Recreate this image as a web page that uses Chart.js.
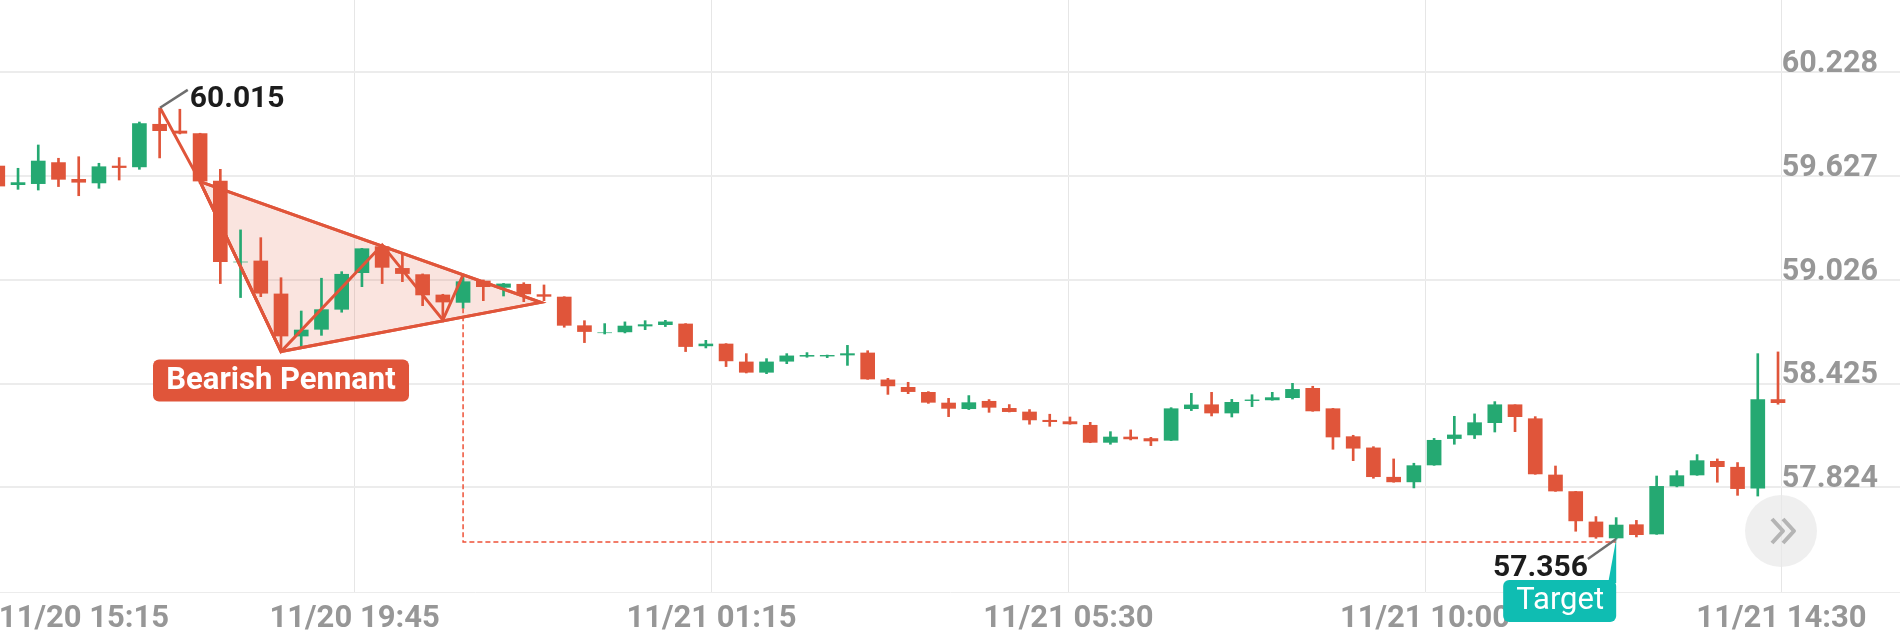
<!DOCTYPE html>
<html>
<head>
<meta charset="utf-8">
<title>Bearish Pennant</title>
<style>
  html, body { margin: 0; padding: 0; background: #fff; overflow: hidden; }
  canvas { display: block; }
</style>
<script src="https://cdn.jsdelivr.net/npm/chart.js@4/dist/chart.umd.min.js"></script>
</head>
<body>
<canvas id="grafico" width="1900" height="640"></canvas>
<script>
const opens = [59.686,59.578,59.584,59.706,59.609,59.588,59.686,59.681,59.928,59.889,
  59.874,59.599,59.13,59.136,58.945,58.701,58.740,58.856,59.068,59.219,
  59.093,59.057,58.939,58.896,59.020,58.983,59.001,58.941,58.927,58.761,
  58.72,58.725,58.759,58.767,58.771,58.644,58.655,58.551,58.491,58.555,
  58.584,58.585,58.591,58.603,58.447,58.404,58.375,58.313,58.280,58.323,
  58.282,58.261,58.213,58.205,58.184,58.085,58.116,58.107,58.097,58.280,
  58.303,58.255,58.327,58.331,58.344,58.398,58.280,58.118,58.053,57.883,
  57.856,57.954,58.107,58.128,58.199,58.303,58.222,57.896,57.800,57.624,
  57.531,57.608,57.554,57.832,57.896,57.975,57.941,57.819,58.333];
const closes = [59.570,59.590,59.715,59.609,59.592,59.682,59.677,59.932,59.891,59.876,
  59.599,59.132,59.13,58.949,58.701,58.736,58.854,59.059,59.207,59.099,
  59.063,58.939,58.898,59.016,58.987,59.003,58.945,58.931,58.763,58.727,
  58.72,58.759,58.767,58.783,58.640,58.655,58.557,58.491,58.551,58.586,
  58.589,58.589,58.599,58.452,58.412,58.379,58.317,58.282,58.315,58.288,
  58.263,58.215,58.205,58.192,58.085,58.116,58.105,58.093,58.280,58.302,
  58.255,58.317,58.331,58.344,58.392,58.267,58.116,58.051,57.886,57.856,
  57.950,58.097,58.128,58.199,58.303,58.234,57.902,57.803,57.630,57.537,
  57.606,57.550,57.830,57.892,57.979,57.944,57.817,58.333,58.315];
const highs = [59.690,59.673,59.808,59.731,59.740,59.702,59.735,59.941,60.022,60.015,
  59.876,59.667,59.316,59.271,59.039,58.846,59.036,59.074,59.209,59.232,
  59.180,59.061,58.943,59.045,59.026,59.006,59.010,58.997,58.929,58.790,
  58.773,58.783,58.790,58.792,58.773,58.676,58.657,58.599,58.570,58.599,
  58.605,58.591,58.647,58.616,58.456,58.433,58.379,58.340,58.356,58.333,
  58.304,58.275,58.248,58.232,58.201,58.147,58.157,58.114,58.286,58.369,
  58.375,58.334,58.361,58.375,58.427,58.410,58.282,58.126,58.060,57.989,
  57.964,58.108,58.236,58.250,58.321,58.303,58.234,57.948,57.801,57.655,
  57.649,57.633,57.890,57.921,58.014,57.989,57.968,58.599,58.609];
const lows = [59.570,59.551,59.547,59.567,59.514,59.557,59.605,59.667,59.733,59.872,
  59.586,59.005,58.924,58.929,58.620,58.640,58.705,58.839,58.987,59.005,
  59.016,58.877,58.784,58.862,58.906,58.933,58.900,58.906,58.752,58.663,
  58.713,58.719,58.738,58.756,58.611,58.632,58.524,58.487,58.483,58.541,
  58.578,58.576,58.531,58.450,58.363,58.367,58.311,58.234,58.275,58.259,
  58.261,58.190,58.178,58.190,58.083,58.074,58.099,58.066,58.095,58.269,
  58.238,58.232,58.292,58.329,58.336,58.265,58.045,57.979,57.877,57.854,
  57.821,57.952,58.074,58.107,58.145,58.147,57.900,57.801,57.570,57.529,
  57.525,57.537,57.552,57.827,57.894,57.854,57.778,57.774,58.306];

const yTicks = [60.228, 59.627, 59.026, 58.425, 57.824];
const xTickPos = [4.26, 17.64, 35.28, 52.92, 70.55, 88.17];
const xTickLabels = ["11/20 15:15", "11/20 19:45", "11/21 01:15", "11/21 05:30", "11/21 10:00", "11/21 14:30"];

// pennant pattern, as candle index / price
const zigzagX = [8.02, 10, 14, 19, 22, 23];
const zigzagY = [60.024, 59.596, 58.611, 59.229, 58.794, 59.055];
const triangleX = [10, 26.84, 14, 10];
const triangleY = [59.596, 58.896, 58.611, 59.596];
const targetX = [23, 23, 80];
const targetY = [58.862, 57.508, 57.508];
const leaderTopX = [8.02, 9.39];
const leaderTopY = [60.024, 60.127];
const leaderLowX = [80, 78.6];
const leaderLowY = [57.525, 57.409];

const VERMELHO = "#e0553a";
const VERDE = "#25a972";

function pontos(xs, ys) {
  return xs.map(function (x, i) { return { x: x, y: ys[i] }; });
}

const indices = opens.map(function (_, i) { return i; });
const cores = indices.map(function (i) { return closes[i] >= opens[i] ? VERDE : VERMELHO; });

function linha(xs, ys, cor, largura, ordem, extra) {
  return Object.assign({
    type: "line",
    data: pontos(xs, ys),
    borderColor: cor,
    borderWidth: largura,
    pointRadius: 0,
    tension: 0,
    fill: false,
    order: ordem
  }, extra || {});
}

function caixa(ctx, x, y, w, h, r, cor) {
  ctx.fillStyle = cor;
  ctx.beginPath();
  ctx.roundRect(x, y, w, h, r);
  ctx.fill();
}

// labels that sit on the pattern, anchored to their points through the scales
const rotulos = {
  id: "rotulos",
  afterDatasetsDraw: function (chart) {
    const ctx = chart.ctx;
    const sx = chart.scales.x;
    const sy = chart.scales.y;
    ctx.save();
    ctx.textBaseline = "middle";

    const ax = sx.getPixelForValue(leaderTopX[1]);
    const ay = sy.getPixelForValue(leaderTopY[1]);
    ctx.fillStyle = "#1c1c1c";
    ctx.font = "bold 30px Roboto";
    ctx.textAlign = "left";
    ctx.fillText("60.015", ax + 2, ay + 10);

    const bx = sx.getPixelForValue(leaderLowX[1]);
    const by = sy.getPixelForValue(leaderLowY[1]);
    ctx.textAlign = "right";
    ctx.fillText("57.356", bx, by + 9);

    // Bearish Pennant tag under the pennant's low corner
    const cx = sx.getPixelForValue(zigzagX[2]);
    const cy = sy.getPixelForValue(zigzagY[2]);
    caixa(ctx, cx - 128, cy + 8, 256, 42, 6, VERMELHO);
    ctx.fillStyle = "#fff";
    ctx.font = "bold 31px Roboto";
    ctx.textAlign = "center";
    ctx.fillText("Bearish Pennant", cx, cy + 30);

    // Target tag with its pointer
    const tx = sx.getPixelForValue(targetX[2]);
    const ty = sy.getPixelForValue(leaderLowY[0]);
    ctx.fillStyle = "#0fbdb2";
    ctx.beginPath();
    ctx.moveTo(tx, ty);
    ctx.lineTo(tx - 8, ty + 44);
    ctx.lineTo(tx, ty + 44);
    ctx.closePath();
    ctx.fill();
    caixa(ctx, tx - 113, ty + 41, 113, 42, 6, "#0fbdb2");
    ctx.fillStyle = "#fff";
    ctx.font = "400 31px Roboto";
    ctx.fillText("Target", tx - 56, ty + 62);

    // scroll button
    ctx.fillStyle = "rgba(232,232,232,0.7)";
    ctx.beginPath();
    ctx.arc(1781, 531, 36, 0, Math.PI * 2);
    ctx.fill();
    ctx.strokeStyle = "#b4b4b4";
    ctx.lineWidth = 4;
    ctx.lineJoin = "round";
    [1772, 1783].forEach(function (x0) {
      ctx.beginPath();
      ctx.moveTo(x0, 519);
      ctx.lineTo(x0 + 11, 531);
      ctx.lineTo(x0, 543);
      ctx.stroke();
    });
    ctx.restore();
  }
};

new Chart(document.getElementById("grafico"), {
  data: {
    datasets: [
      linha(triangleX, triangleY, VERMELHO, 3, 5, { fill: "shape", backgroundColor: "rgba(224,85,58,0.16)" }),
      {
        type: "bar",
        data: indices.map(function (i) { return { x: i, y: [lows[i], highs[i]] }; }),
        backgroundColor: cores,
        barThickness: 2,
        grouped: false,
        order: 4
      },
      {
        type: "bar",
        data: indices.map(function (i) { return { x: i, y: [opens[i], closes[i]] }; }),
        backgroundColor: cores,
        barThickness: 14,
        grouped: false,
        order: 3
      },
      linha(zigzagX, zigzagY, VERMELHO, 3, 2),
      linha(triangleX, triangleY, VERMELHO, 3, 2),
      linha(targetX, targetY, "#ee5238", 1.5, 2, { borderDash: [5, 3] }),
      linha(leaderTopX, leaderTopY, "#6e6e6e", 2.5, 1),
      linha(leaderLowX, leaderLowY, "#6e6e6e", 2.5, 1)
    ]
  },
  options: {
    responsive: false,
    animation: false,
    layout: { padding: 0 },
    plugins: { legend: { display: false }, tooltip: { enabled: false } },
    scales: {
      x: {
        type: "linear",
        offset: false,
        min: 0.109,
        max: 94.03,
        afterBuildTicks: function (scale) {
          scale.ticks = xTickPos.map(function (v) { return { value: v }; });
        },
        afterFit: function (scale) {
          scale.height = 48;
          scale.paddingLeft = 0;
          scale.paddingRight = 0;
        },
        grid: {
          offset: false,
          drawTicks: false,
          lineWidth: 1,
          color: function (c) { return c.index === 0 ? "rgba(0,0,0,0)" : "#e6e6e6"; }
        },
        border: { color: "#ececec", width: 1 },
        ticks: {
          autoSkip: false,
          maxRotation: 0,
          padding: 9,
          color: "#979797",
          font: { family: "Roboto", size: 31, weight: "bold" },
          callback: function (value, index) { return xTickLabels[index]; }
        }
      },
      y: {
        type: "linear",
        position: "right",
        min: 57.218,
        max: 60.648,
        afterBuildTicks: function (scale) {
          scale.ticks = yTicks.map(function (v) { return { value: v }; });
        },
        afterFit: function (scale) { scale.width = 0; },
        grid: { drawTicks: false, lineWidth: 2, color: "#ececec" },
        border: { display: false },
        ticks: {
          mirror: true,
          padding: -22,
          labelOffset: -8,
          color: "#979797",
          font: { family: "Roboto", size: 30.5, weight: "bold" },
          callback: function (value) { return value.toFixed(3); }
        }
      }
    }
  },
  plugins: [rotulos]
});
</script>
</body>
</html>
